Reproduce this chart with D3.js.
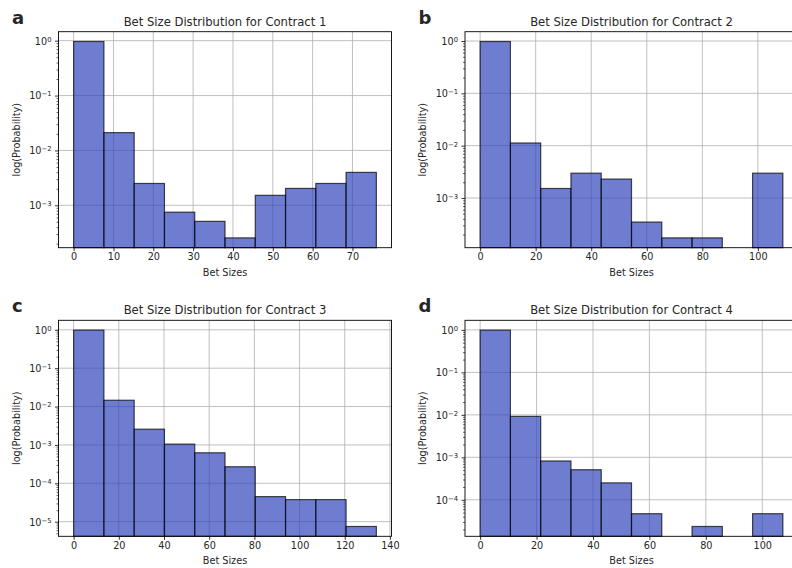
<!DOCTYPE html>
<html>
<head>
<meta charset="utf-8">
<script src="https://cdn.jsdelivr.net/npm/d3@7/dist/d3.min.js"></script>
<style>
  html, body { margin: 0; padding: 0; background: #fff; }
  svg { display: block; }
  text { font-family: "DejaVu Sans", sans-serif; fill: #262626; }
</style>
</head>
<body>
<svg id="chart" width="792" height="568"></svg>
<script>
// ---------- data ----------
const panelLetters = ["a", "b", "c", "d"];
const panelTitles = [
  "Bet Size Distribution for Contract 1",
  "Bet Size Distribution for Contract 2",
  "Bet Size Distribution for Contract 3",
  "Bet Size Distribution for Contract 4"
];
// maximum bet size per contract (histogram spans 0..max in 10 equal bins)
const binMax = [76, 109, 134, 107.3];
// probability per bin (10 bins each)
const probs1 = [0.9649, 0.0211, 0.0025, 0.00075, 0.00051, 0.000255, 0.00152, 0.00203, 0.0025, 0.00398];
const probs2 = [0.9775, 0.01125, 0.00152, 0.00298, 0.0023, 0.000347, 0.000173, 0.000173, 0, 0.00298];
const probs3 = [0.9808, 0.0146, 0.00257, 0.00105, 0.000624, 0.00027, 0.000045, 0.0000376, 0.0000376, 0.0000075];
const probs4 = [0.9891, 0.0092, 0.00082, 0.00051, 0.00025, 0.000047, 0, 0.0000235, 0, 0.000047];
const xTicks1 = [0, 10, 20, 30, 40, 50, 60, 70];
const xTicks2 = [0, 20, 40, 60, 80, 100];
const xTicks3 = [0, 20, 40, 60, 80, 100, 120, 140];
const xTicks4 = [0, 20, 40, 60, 80, 100];
const xLabel = "Bet Sizes";
const yLabel = "log(Probability)";

// ---------- layout ----------
const svg = d3.select("#chart");
const colLeft = [58.5, 465];
const rowTop = [31.7, 320.3];
const W = 333, H = 216;
const probs = [probs1, probs2, probs3, probs4];
const xTicks = [xTicks1, xTicks2, xTicks3, xTicks4];
const supMap = {"0":"⁰","1":"¹","2":"²","3":"³","4":"⁴","5":"⁵","6":"⁶","7":"⁷","8":"⁸","9":"⁹","-":"⁻"};

probs.forEach((vals, i) => {
  const left = colLeft[i % 2], top = rowTop[Math.floor(i / 2)];
  const g = svg.append("g").attr("transform", `translate(${left},${top})`);
  const nb = vals.length;
  const bw = binMax[i] / nb;
  const bins = vals.map((v, k) => ({x0: k * bw, x1: (k + 1) * bw, v}));

  // x scale with 5% margins
  const xm = binMax[i] * 0.05;
  const x = d3.scaleLinear().domain([-xm, binMax[i] + xm]).range([0, W]);
  // y log scale with 5% margins in log space
  const pos = vals.filter(v => v > 0);
  const lmin = Math.log10(d3.min(pos)), lmax = Math.log10(d3.max(pos));
  const lm = (lmax - lmin) * 0.05;
  const y = d3.scaleLog().domain([Math.pow(10, lmin - lm), Math.pow(10, lmax + lm)]).range([H, 0]);

  const dLo = Math.floor(lmin - lm), dHi = Math.ceil(lmax + lm);
  const majors = [], minors = [];
  for (let e = dLo; e <= dHi; e++) {
    const p = Math.pow(10, e);
    if (p >= y.domain()[0] && p <= y.domain()[1]) majors.push(p);
    for (let m = 2; m <= 9; m++) {
      const q = m * p;
      if (q >= y.domain()[0] && q <= y.domain()[1]) minors.push(q);
    }
  }

  // grid
  const grid = g.append("g").attr("class", "grid");
  grid.selectAll("line.gx").data(xTicks[i]).join("line")
    .attr("x1", d => x(d)).attr("x2", d => x(d)).attr("y1", 0).attr("y2", H)
    .attr("stroke", "#b0b0b0").attr("stroke-width", 0.8);
  grid.selectAll("line.gy").data(majors).join("line")
    .attr("x1", 0).attr("x2", W).attr("y1", d => y(d)).attr("y2", d => y(d))
    .attr("stroke", "#b0b0b0").attr("stroke-width", 0.8);

  // bars
  g.append("g").selectAll("rect").data(bins.filter(b => b.v > 0)).join("rect")
    .attr("x", d => x(d.x0)).attr("width", d => x(d.x1) - x(d.x0))
    .attr("y", d => y(d.v)).attr("height", d => H - y(d.v))
    .attr("fill", "rgb(50,70,190)").attr("fill-opacity", 0.7)
    .attr("stroke", "#000").attr("stroke-opacity", 0.7).attr("stroke-width", 1.2);

  // spines
  g.append("rect").attr("x", 0).attr("y", 0).attr("width", W).attr("height", H)
    .attr("fill", "none").attr("stroke", "#000").attr("stroke-width", 0.9);

  // x axis
  const xa = g.append("g").attr("transform", `translate(0,${H})`)
    .call(d3.axisBottom(x).tickValues(xTicks[i]).tickSize(3.5).tickPadding(2).tickFormat(d3.format("d")));
  xa.select(".domain").remove();
  xa.selectAll("text").attr("font-size", "9.7px").attr("font-family", "DejaVu Sans").attr("fill", "#262626");
  xa.selectAll("line").attr("stroke", "#000").attr("stroke-width", 0.8);

  // y axis minor ticks
  const ymi = g.append("g").call(d3.axisLeft(y).tickValues(minors).tickSize(2).tickFormat(""));
  ymi.select(".domain").remove();
  ymi.selectAll("line").attr("stroke", "#000").attr("stroke-width", 0.6);
  // y axis major ticks
  const yma = g.append("g").call(d3.axisLeft(y).tickValues(majors).tickSize(3.5).tickFormat(""));
  yma.select(".domain").remove();
  yma.selectAll("line").attr("stroke", "#000").attr("stroke-width", 0.8);
  yma.selectAll(".tick").each(function(d) {
    const e = Math.round(Math.log10(d));
    const sup = String(e).split("").map(c => supMap[c]).join("");
    const t = d3.select(this).append("text")
      .attr("x", -7).attr("dy", "0.35em").attr("text-anchor", "end")
      .attr("font-size", "9.7px").attr("fill", "#262626");
    t.append("tspan").text("10");
    t.append("tspan").text(String(e).replace("-", "−")).attr("font-size", "6.8px").attr("dy", "-0.45em")
      .attr("baseline-shift", "0");
  });

  // labels
  g.append("text").attr("x", W / 2).attr("y", H + 28).attr("text-anchor", "middle")
    .attr("font-size", "9.7px").text(xLabel);
  g.append("text").attr("transform", `translate(-39,${H / 2}) rotate(-90)`)
    .attr("text-anchor", "middle").attr("font-size", "9.7px").text(yLabel);
  g.append("text").attr("x", W / 2).attr("y", -6).attr("text-anchor", "middle")
    .attr("font-size", "11.6px").text(panelTitles[i]);
  g.append("text").attr("x", -46.5).attr("y", -8)
    .attr("font-family", "Liberation Sans, Arial, sans-serif").attr("font-weight", "bold")
    .attr("font-size", "18px").attr("fill", "#000").text(panelLetters[i]);
});
</script>
</body>
</html>
